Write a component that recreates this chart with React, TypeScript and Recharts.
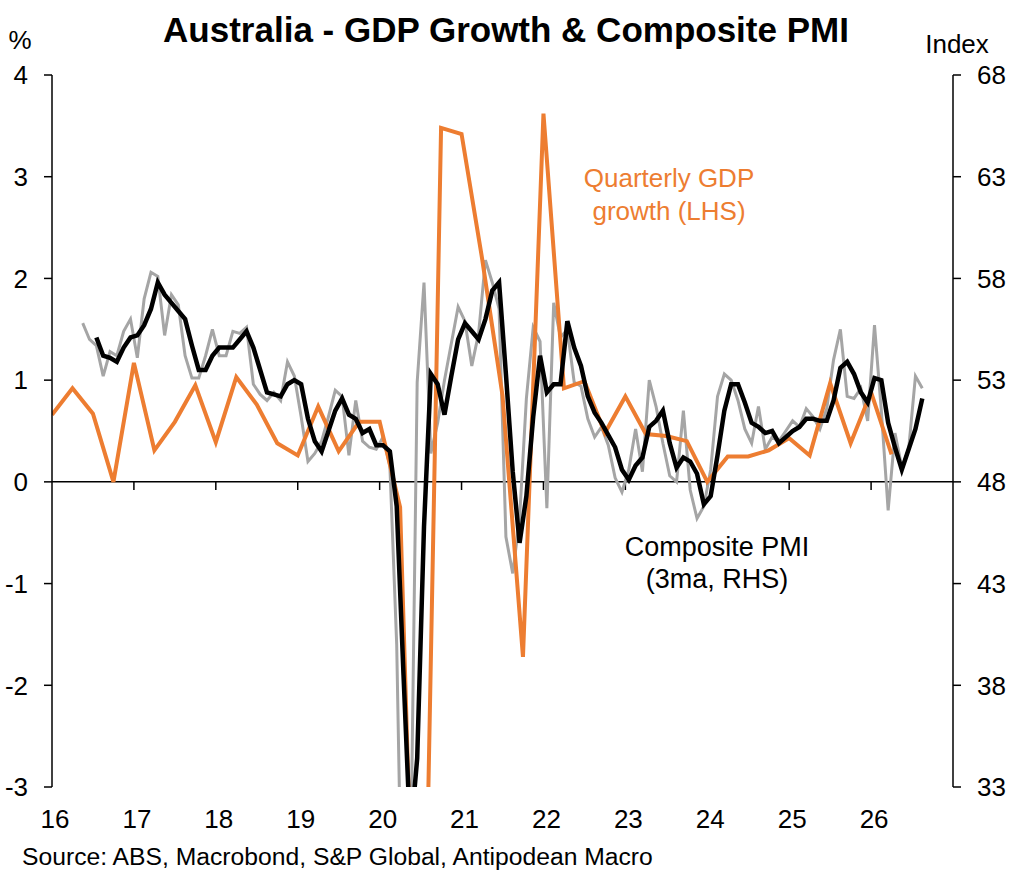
import React from "react"
import { LineChart, Line, XAxis, YAxis, ReferenceLine } from "recharts"

const FONT = "'Liberation Sans', Arial, sans-serif"
const ORANGE = "#ed7d31"
const GREY = "#a5a5a5"

const YEAR_TICKS = [2016, 2017, 2018, 2019, 2020, 2021, 2022, 2023, 2024, 2025, 2026]
const YEAR_LABELS = ["16", "17", "18", "19", "20", "21", "22", "23", "24", "25", "26"]
const LEFT_TICKS = [-3, -2, -1, 0, 1, 2, 3, 4]
const RIGHT_TICKS = [33, 38, 43, 48, 53, 58, 63, 68]

// quarterly GDP growth (% q/q), first point is 2015 Q4
const gdpGrowth = [
  0.66, 0.92, 0.67, 0.0, 1.17, 0.31, 0.59, 0.95, 0.39, 1.03, 0.76, 0.38,
  0.26, 0.74, 0.3, 0.59, 0.59, -0.25, -7.0, 3.48, 3.42, 2.2, 0.85, -1.72,
  3.62, 0.92, 0.99, 0.48, 0.84, 0.47, 0.45, 0.4, 0.0, 0.25, 0.25, 0.31,
  0.43, 0.26, 0.97, 0.38, 0.88, 0.27
]

// composite PMI, monthly, May 2016 -> Aug 2026
const PMI_FIRST_MONTH = 4
const pmiMonthly = [
  55.8, 55.0, 54.7, 53.2, 54.4, 54.2, 55.4, 56.0,
  54.1, 57.0, 58.3, 58.1, 55.2, 57.2, 56.7, 54.2, 53.1, 53.1, 54.2, 55.5,
  54.2, 54.2, 55.4, 55.3, 55.6, 52.8, 52.3, 52.0, 52.4, 52.0, 53.9, 53.2,
  51.2, 49.0, 49.4, 50.0, 51.2, 52.5, 52.2, 49.3, 52.0, 50.0, 49.7, 49.6,
  50.2, 48.8, 40.0, 21.7, 28.1, 52.9, 57.8, 49.4, 50.9, 53.0, 54.8, 56.6,
  55.9, 53.7, 55.3, 58.9, 57.8, 56.5, 45.3, 43.5, 46.2, 52.1, 55.6, 54.9,
  46.7, 56.8, 55.1, 55.5, 52.9, 52.7, 51.1, 50.2, 50.7, 49.8, 48.2, 47.5,
  48.6, 50.6, 48.5, 53.0, 51.7, 49.9, 48.3, 48.0, 51.5, 47.6, 46.2, 46.8,
  48.6, 52.2, 53.3, 53.0, 52.0, 50.6, 49.9, 51.7, 49.6, 50.2, 50.0, 50.5,
  51.0, 50.7, 51.6, 51.2, 50.6, 51.6, 54.0, 55.5, 52.2, 52.1, 52.6, 51.0,
  55.7, 51.5, 46.6, 50.4, 48.7, 49.6, 53.2, 52.6
]

// composite PMI 3ma, Jul 2016 -> Aug 2026
const PMI_3MA_FIRST_MONTH = 6
const pmi3ma = [
  55.1, 54.2, 54.1, 53.9, 54.6, 55.1,
  55.2, 55.7, 56.5, 57.8, 57.2, 56.8, 56.4, 56.0, 54.7, 53.5, 53.5, 54.2,
  54.6, 54.6, 54.6, 55.0, 55.4, 54.6, 53.5, 52.4, 52.3, 52.2, 52.8, 53.0,
  52.8, 51.1, 50.0, 49.5, 50.5, 51.5, 52.1, 51.3, 51.1, 50.4, 50.6, 49.8,
  49.8, 49.5, 46.8, 38.5, 30.5, 34.4, 45.8, 53.3, 52.8, 51.3, 53.2, 55.0,
  55.8, 55.4, 55.0, 56.0, 57.4, 57.8, 53.3, 48.5, 45.0, 47.3, 51.2, 54.2,
  52.4, 52.8, 52.8, 55.9, 54.6, 53.7, 52.2, 51.4, 50.9, 50.3, 49.7, 48.6,
  48.1, 48.8, 49.2, 50.7, 51.0, 51.5, 49.9, 48.7, 49.2, 49.0, 48.4, 46.9,
  47.3, 49.3, 51.5, 52.8, 52.8, 51.9, 50.9, 50.7, 50.4, 50.5, 49.9, 50.2,
  50.5, 50.7, 51.1, 51.1, 51.0, 51.0, 52.0, 53.6, 53.9, 53.3, 52.4, 51.9,
  53.1, 53.0, 50.9, 49.7, 48.6, 49.6, 50.6, 52.1
]

// quarter ends sit on the year grid, months are drawn mid-month
const gdpData = gdpGrowth.map((v, i) => ({ x: 2016 + i / 4, v }))
const pmiData = pmiMonthly.map((v, i) => ({ x: 2016 + (PMI_FIRST_MONTH + i + 0.5) / 12, v }))
const pmi3maData = pmi3ma.map((v, i) => ({ x: 2016 + (PMI_3MA_FIRST_MONTH + i + 0.5) / 12, v }))

const TICK_FONT = 26

function YearTick(props: any) {
  const { x, y, payload } = props
  const label = YEAR_LABELS[YEAR_TICKS.indexOf(payload.value)]
  return (
    <text x={x + 3} y={y} dy="0.71em" textAnchor="middle" fontSize={TICK_FONT} fontFamily={FONT} fill="#000">
      {label}
    </text>
  )
}

const textBase: React.CSSProperties = {
  position: "absolute",
  fontFamily: FONT,
  whiteSpace: "nowrap",
  color: "#000"
}

export default function App() {
  return (
    <div style={{ position: "absolute", left: 0, top: 0, width: 1012, height: 873, background: "#fff" }}>
      <LineChart width={1012} height={873} margin={{ top: 75, right: 9, bottom: 46, left: 12 }}>
        <XAxis
          type="number"
          dataKey="x"
          domain={[2016, 2027]}
          ticks={YEAR_TICKS}
          interval={0}
          allowDataOverflow
          axisLine={false}
          tickLine={false}
          tickSize={0}
          tickMargin={23}
          height={40}
          tick={<YearTick />}
        />
        <YAxis
          yAxisId="left"
          domain={[-3, 4]}
          ticks={LEFT_TICKS}
          interval={0}
          allowDataOverflow
          width={40}
          axisLine={{ stroke: "#000", strokeWidth: 1.5 }}
          tickLine={{ stroke: "#000", strokeWidth: 1.5 }}
          tickSize={8}
          tickMargin={16}
          tick={{ fill: "#000", fontSize: TICK_FONT, fontFamily: FONT }}
        />
        <YAxis
          yAxisId="right"
          orientation="right"
          domain={[33, 68]}
          ticks={RIGHT_TICKS}
          interval={0}
          allowDataOverflow
          width={50}
          axisLine={{ stroke: "#000", strokeWidth: 1.5 }}
          tickLine={{ stroke: "#000", strokeWidth: 1.5 }}
          tickSize={8}
          tickMargin={16}
          tick={{ fill: "#000", fontSize: TICK_FONT, fontFamily: FONT, textAnchor: "start" }}
        />
        <ReferenceLine yAxisId="left" y={0} stroke="#000" strokeWidth={1.5} />
        {YEAR_TICKS.slice(1).map(t => (
          <ReferenceLine
            key={t}
            yAxisId="left"
            segment={[{ x: t, y: 0 }, { x: t, y: -0.08 }]}
            stroke="#000"
            strokeWidth={1.5}
          />
        ))}
        <Line
          yAxisId="right"
          data={pmiData}
          dataKey="v"
          type="linear"
          stroke={GREY}
          strokeWidth={3}
          dot={false}
          isAnimationActive={false}
        />
        <Line
          yAxisId="left"
          data={gdpData}
          dataKey="v"
          type="linear"
          stroke={ORANGE}
          strokeWidth={4}
          dot={false}
          isAnimationActive={false}
        />
        <Line
          yAxisId="right"
          data={pmi3maData}
          dataKey="v"
          type="linear"
          stroke="#000"
          strokeWidth={4.5}
          dot={false}
          isAnimationActive={false}
        />
      </LineChart>

      <div style={{ ...textBase, left: 506, top: 12, fontSize: 35, fontWeight: "bold", lineHeight: "35px", transform: "translateX(-50%)" }}>
        Australia - GDP Growth &amp; Composite PMI
      </div>
      <div style={{ ...textBase, left: 20, top: 27, fontSize: 26, lineHeight: "26px", transform: "translateX(-50%)" }}>%</div>
      <div style={{ ...textBase, left: 957, top: 31, fontSize: 26, lineHeight: "26px", transform: "translateX(-50%)" }}>Index</div>
      <div style={{ ...textBase, left: 669, top: 162, fontSize: 26, lineHeight: "33px", color: ORANGE, textAlign: "center", transform: "translateX(-50%)" }}>
        Quarterly GDP
        <br />
        growth (LHS)
      </div>
      <div style={{ ...textBase, left: 717, top: 531, fontSize: 27, lineHeight: "32px", textAlign: "center", transform: "translateX(-50%)" }}>
        Composite PMI
        <br />
        (3ma, RHS)
      </div>
      <div style={{ ...textBase, left: 22, top: 845, fontSize: 24.7, lineHeight: "24px" }}>
        Source: ABS, Macrobond, S&amp;P Global, Antipodean Macro
      </div>
    </div>
  )
}
